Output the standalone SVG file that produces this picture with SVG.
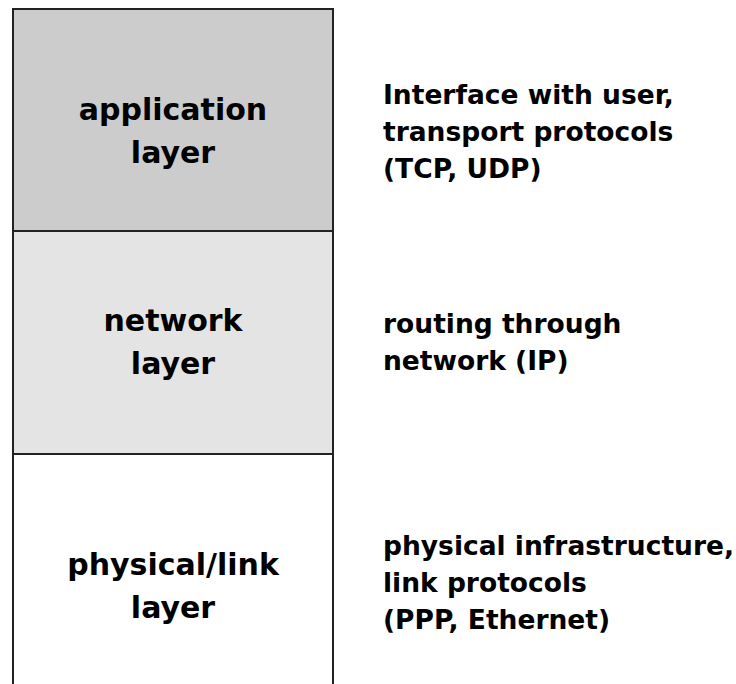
<svg xmlns="http://www.w3.org/2000/svg" width="736" height="684" viewBox="0 0 736 684">
<style>
.t{font-family:"DejaVu Sans","Liberation Sans",sans-serif;font-weight:700;font-size:26.5px;fill:#000}
.c{text-anchor:middle;font-size:30px}
.box{stroke:#222;stroke-width:2}
</style>
<rect width="736" height="684" fill="#fff"/>
<g id="application">
<rect class="box" x="13" y="9" width="320" height="222" fill="#cccccc"/>
<text class="t c" x="173" y="120">application</text>
<text class="t c" x="173" y="163">layer</text>
<text class="t" x="383" y="104">Interface with user,</text>
<text class="t" x="383" y="141">transport protocols</text>
<text class="t" x="383" y="178">(TCP, UDP)</text>
</g>
<g id="network">
<rect class="box" x="13" y="231" width="320" height="223" fill="#e4e4e4"/>
<text class="t c" x="173" y="331">network</text>
<text class="t c" x="173" y="374">layer</text>
<text class="t" x="383" y="333">routing through</text>
<text class="t" x="383" y="370">network (IP)</text>
</g>
<g id="physical">
<path class="box" d="M13 695 V454 H333 V695" fill="#fff"/>
<text class="t c" x="173" y="575">physical/link</text>
<text class="t c" x="173" y="618">layer</text>
<text class="t" x="383" y="555">physical infrastructure,</text>
<text class="t" x="383" y="592">link protocols</text>
<text class="t" x="383" y="629">(PPP, Ethernet)</text>
</g>
<g id="connectors"></g>
</svg>
